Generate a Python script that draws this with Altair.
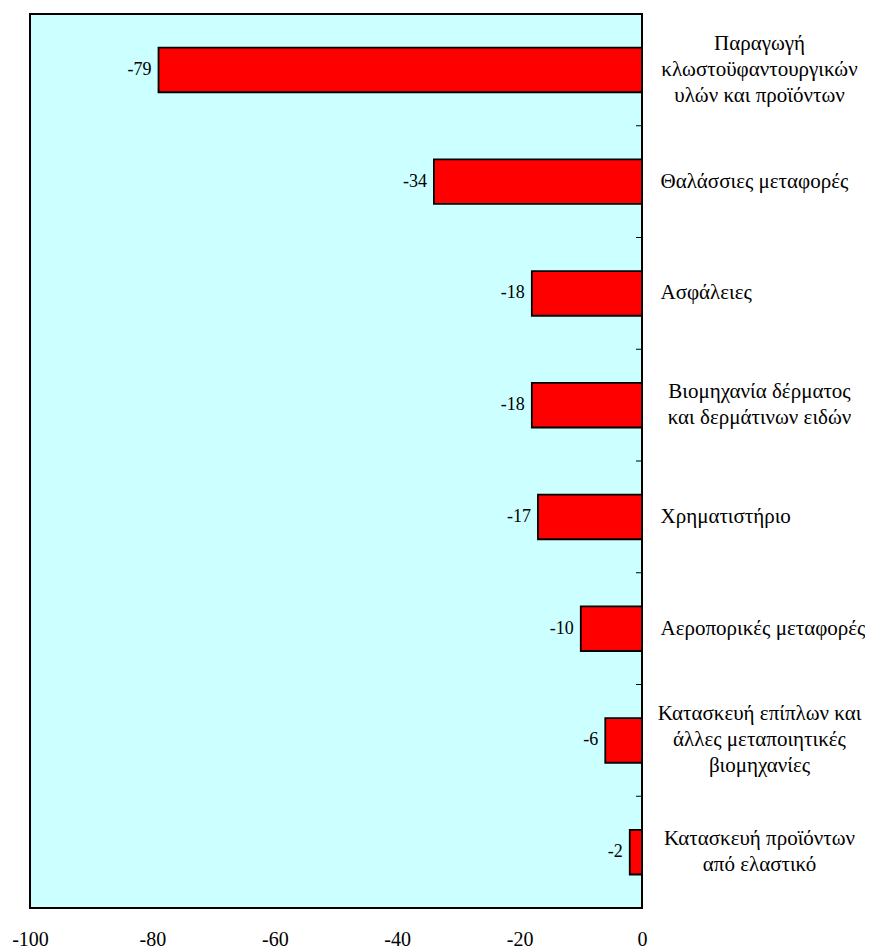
import altair as alt
import pandas as pd

categories = [
    "Παραγωγή\nκλωστοϋφαντουργικών\nυλών και προϊόντων",
    "Θαλάσσιες μεταφορές",
    "Ασφάλειες",
    "Βιομηχανία δέρματος\nκαι δερμάτινων ειδών",
    "Χρηματιστήριο",
    "Αεροπορικές μεταφορές",
    "Κατασκευή επίπλων και\nάλλες μεταποιητικές\nβιομηχανίες",
    "Κατασκευή προϊόντων\nαπό ελαστικό",
]
values = [-79, -34, -18, -18, -17, -10, -6, -2]
x_ticks = [-100, -80, -60, -40, -20, 0]

df = pd.DataFrame({"cat": categories, "val": values})

FONT = "Times New Roman, Liberation Serif, serif"
W, H = 612, 894
LH = 26
NLINES = "length(split(datum.label, '\\n'))"
MULTI = NLINES + " > 1"

x_enc = alt.X(
    "val:Q",
    scale=alt.Scale(domain=[-100, 0], nice=False),
    axis=alt.Axis(
        values=x_ticks, title=None, grid=False, ticks=False, domain=False,
        labelFont=FONT, labelFontSize=20, labelColor="black", labelPadding=21,
        labelFlush=False, labelExpr="toString(datum.value)",
    ),
)
y_enc = alt.Y(
    "cat:N", sort=categories,
    scale=alt.Scale(paddingInner=0.6, paddingOuter=0.3),
    axis=alt.Axis(
        orient="right", title=None, ticks=False, domain=False,
        labelFont=FONT, labelFontSize=21, labelColor="black",
        labelAlign={"condition": {"test": MULTI, "value": "center"}, "value": "left"},
        labelPadding={"condition": {"test": MULTI, "value": 117}, "value": 18},
        labelOffset={
            "condition": [
                {"test": NLINES + " == 3", "value": -LH},
                {"test": NLINES + " == 2", "value": -LH / 2},
            ],
            "value": 0,
        },
        labelBaseline="middle",
        labelLineHeight=LH, labelLimit=400,
        labelExpr="split(datum.label, '\\n')",
    ),
)

bars = alt.Chart(df).mark_bar(color="#FF0000", stroke="black", strokeWidth=1.8).encode(
    x=x_enc, y=y_enc
)
texts = alt.Chart(df).transform_calculate(
    lab="toString(datum.val)"
).mark_text(
    align="right", baseline="middle", dx=-7, font=FONT, fontSize=18, color="black"
).encode(x="val:Q", y=alt.Y("cat:N", sort=categories), text="lab:N")

ticks = alt.Chart(df).mark_rule(color="black", strokeWidth=1).encode(
    y=alt.Y("cat:N", sort=categories, bandPosition=0,
            scale=alt.Scale(paddingInner=0, paddingOuter=0), axis=None),
    x=alt.value(W - 6), x2=alt.value(W),
)

chart = (
    alt.layer(alt.layer(bars, texts), ticks)
    .resolve_scale(y="independent")
    .properties(
        width=W, height=H,
        autosize=alt.AutoSizeParams(type="none"),
        padding={"left": 22, "top": 6, "right": 223, "bottom": 42},
        background="white",
    )
    .configure_view(fill="#CCFFFF", stroke="black", strokeWidth=2)
)

chart.save("out.html", embed_options={"renderer": "svg", "actions": False})
